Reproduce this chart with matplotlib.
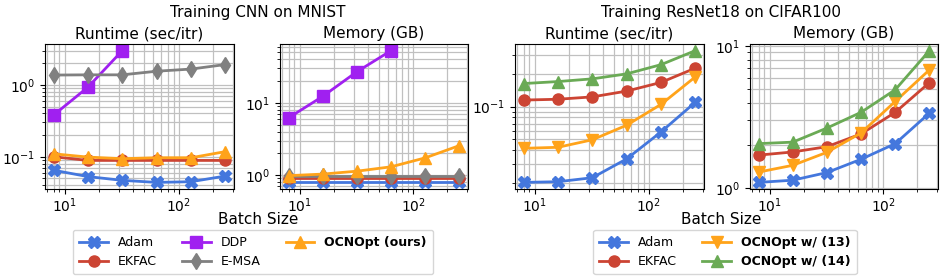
import matplotlib
matplotlib.use("Agg")
import matplotlib.pyplot as plt
from matplotlib.lines import Line2D

batch_sizes = [8, 16, 32, 64, 128, 256]

# Training CNN on MNIST
mnist_runtime_adam = [0.065, 0.053, 0.047, 0.044, 0.045, 0.054]
mnist_runtime_ekfac = [0.100, 0.089, 0.089, 0.089, 0.089, 0.089]
mnist_runtime_ddp = [0.38, 0.93, 3.0]
mnist_runtime_emsa = [1.37, 1.38, 1.38, 1.55, 1.66, 1.92]
mnist_runtime_ocnopt = [0.110, 0.099, 0.094, 0.097, 0.097, 0.118]

mnist_memory_adam = [0.79, 0.79, 0.79, 0.79, 0.79, 0.79]
mnist_memory_ekfac = [0.90, 0.90, 0.90, 0.90, 0.90, 0.90]
mnist_memory_ddp = [6.2, 12.3, 27.0, 53.0]
mnist_memory_emsa = [0.96, 0.96, 0.96, 0.96, 0.96, 0.96]
mnist_memory_ocnopt = [0.98, 1.03, 1.13, 1.30, 1.73, 2.56]

# Training ResNet18 on CIFAR100
cifar_runtime_adam = [0.0202, 0.0205, 0.0223, 0.0332, 0.0587, 0.110]
cifar_runtime_ekfac = [0.115, 0.117, 0.123, 0.139, 0.167, 0.226]
cifar_runtime_oc13 = [0.0415, 0.0424, 0.0497, 0.0676, 0.105, 0.188]
cifar_runtime_oc14 = [0.163, 0.170, 0.180, 0.200, 0.243, 0.327]

cifar_memory_adam = [1.10, 1.14, 1.29, 1.60, 2.06, 3.38]
cifar_memory_ekfac = [1.71, 1.80, 1.96, 2.41, 3.42, 5.53]
cifar_memory_oc13 = [1.30, 1.45, 1.79, 2.45, 4.08, 6.80]
cifar_memory_oc14 = [2.06, 2.11, 2.65, 3.42, 4.93, 9.28]

C_ADAM = "#4477dd"
C_EKFAC = "#cc4433"
C_DDP = "#a020f0"
C_EMSA = "#808080"
C_OCN = "#ffa31a"
C_OCN14 = "#6aaa55"

LW = 2.0
MS = 8

plt.rcParams["font.family"] = "DejaVu Sans"

fig = plt.figure(figsize=(9.47, 2.80), dpi=100)
W, H = 947.0, 280.0


def make_axes(left_px, right_px):
    return fig.add_axes([left_px / W, (H - 189) / H,
                         (right_px - left_px) / W, 145 / H])


def style(ax, title):
    ax.set_xscale("log")
    ax.set_yscale("log")
    ax.grid(True, which="both", color="#c0c0c0", linewidth=0.9)
    ax.set_axisbelow(True)
    ax.set_title(title, fontsize=11, pad=4)
    ax.tick_params(labelsize=10)
    ax.tick_params(axis="x", pad=2)


ax1 = make_axes(45, 234)
ax1.plot(batch_sizes, mnist_runtime_adam, color=C_ADAM, marker="X", lw=LW, ms=MS)
ax1.plot(batch_sizes, mnist_runtime_ekfac, color=C_EKFAC, marker="o", lw=LW, ms=MS)
ax1.plot(batch_sizes[:len(mnist_runtime_ddp)], mnist_runtime_ddp, color=C_DDP, marker="s", lw=LW, ms=MS)
ax1.plot(batch_sizes, mnist_runtime_emsa, color=C_EMSA, marker="d", lw=LW, ms=MS)
ax1.plot(batch_sizes, mnist_runtime_ocnopt, color=C_OCN, marker="^", lw=LW, ms=MS)
style(ax1, "Runtime (sec/itr)")

ax2 = make_axes(280, 468)
ax2.plot(batch_sizes, mnist_memory_adam, color=C_ADAM, marker="X", lw=LW, ms=MS)
ax2.plot(batch_sizes, mnist_memory_ekfac, color=C_EKFAC, marker="o", lw=LW, ms=MS)
ax2.plot(batch_sizes[:len(mnist_memory_ddp)], mnist_memory_ddp, color=C_DDP, marker="s", lw=LW, ms=MS)
ax2.plot(batch_sizes, mnist_memory_emsa, color=C_EMSA, marker="d", lw=LW, ms=MS)
ax2.plot(batch_sizes, mnist_memory_ocnopt, color=C_OCN, marker="^", lw=LW, ms=MS)
style(ax2, "Memory (GB)")

ax3 = make_axes(515, 704)
ax3.plot(batch_sizes, cifar_runtime_adam, color=C_ADAM, marker="X", lw=LW, ms=MS)
ax3.plot(batch_sizes, cifar_runtime_ekfac, color=C_EKFAC, marker="o", lw=LW, ms=MS)
ax3.plot(batch_sizes, cifar_runtime_oc13, color=C_OCN, marker="v", lw=LW, ms=MS)
ax3.plot(batch_sizes, cifar_runtime_oc14, color=C_OCN14, marker="^", lw=LW, ms=MS)
style(ax3, "Runtime (sec/itr)")

ax4 = make_axes(750, 938)
ax4.plot(batch_sizes, cifar_memory_adam, color=C_ADAM, marker="X", lw=LW, ms=MS)
ax4.plot(batch_sizes, cifar_memory_ekfac, color=C_EKFAC, marker="o", lw=LW, ms=MS)
ax4.plot(batch_sizes, cifar_memory_oc13, color=C_OCN, marker="v", lw=LW, ms=MS)
ax4.plot(batch_sizes, cifar_memory_oc14, color=C_OCN14, marker="^", lw=LW, ms=MS)
style(ax4, "Memory (GB)")

# group titles and shared x labels
fig.text(258 / W, 1 - 13 / H, "Training CNN on MNIST", ha="center", va="center", fontsize=11)
fig.text(721 / W, 1 - 13 / H, "Training ResNet18 on CIFAR100", ha="center", va="center", fontsize=11)
fig.text(258 / W, 1 - 220 / H, "Batch Size", ha="center", va="center", fontsize=11)
fig.text(721 / W, 1 - 220 / H, "Batch Size", ha="center", va="center", fontsize=11)


def handle(color, marker):
    return Line2D([], [], color=color, marker=marker, lw=LW, ms=MS)


left_handles = [handle(C_ADAM, "X"), handle(C_EKFAC, "o"), handle(C_DDP, "s"),
                handle(C_EMSA, "d"), handle(C_OCN, "^")]
left_labels = ["Adam", "EKFAC", "DDP", "E-MSA", "OCNOpt (ours)"]
leg1 = fig.legend(left_handles, left_labels, ncol=3, loc="center",
                  bbox_to_anchor=(253 / W, 1 - 252 / H), fontsize=9,
                  handlelength=2.3, columnspacing=2.0, labelspacing=0.5,
                  borderpad=0.5, frameon=True)
leg1.get_texts()[4].set_fontweight("bold")

right_handles = [handle(C_ADAM, "X"), handle(C_EKFAC, "o"),
                 handle(C_OCN, "v"), handle(C_OCN14, "^")]
right_labels = ["Adam", "EKFAC", "OCNOpt w/ (13)", "OCNOpt w/ (14)"]
leg2 = fig.legend(right_handles, right_labels, ncol=2, loc="center",
                  bbox_to_anchor=(725 / W, 1 - 252 / H), fontsize=9,
                  handlelength=2.3, columnspacing=2.0, labelspacing=0.5,
                  borderpad=0.5, frameon=True)
leg2.get_texts()[2].set_fontweight("bold")
leg2.get_texts()[3].set_fontweight("bold")

fig.savefig("out.png", dpi=100)
plt.close(fig)
